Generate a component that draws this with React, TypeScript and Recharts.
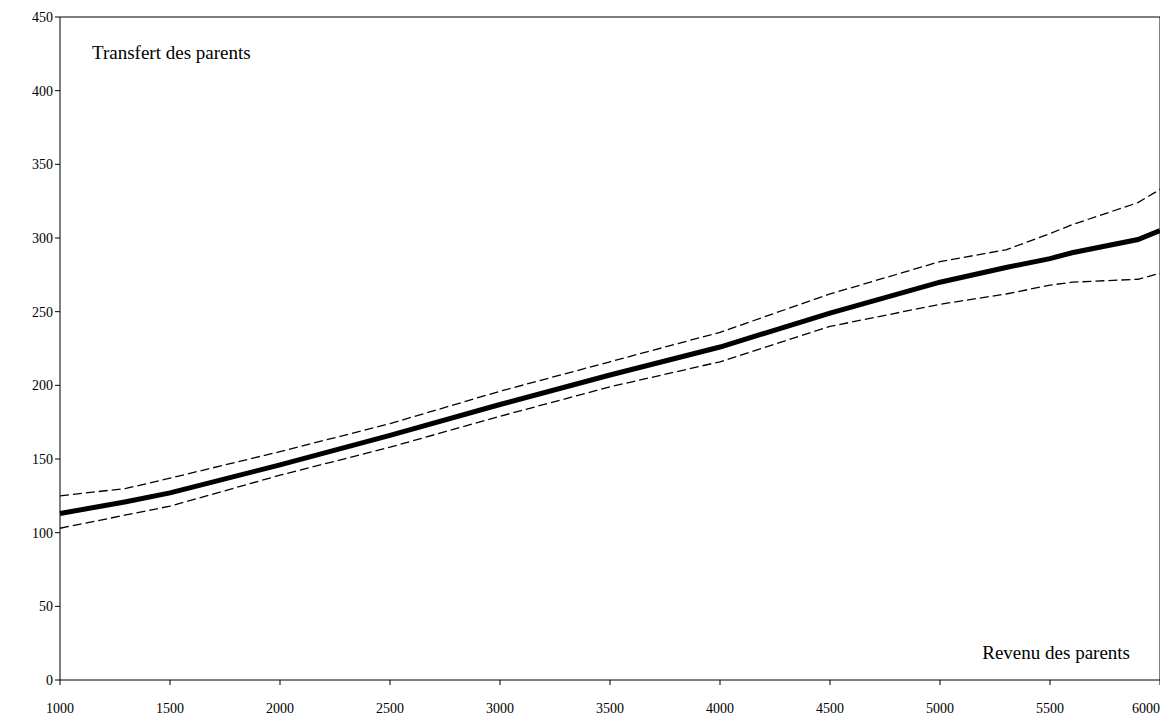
import React from "react";
import { LineChart, Line, XAxis, YAxis, ReferenceLine } from "recharts";

const xs = [1000, 1300, 1500, 2000, 2500, 3000, 3500, 4000, 4500, 5000, 5300, 5500, 5600, 5900, 6000];
const mid = [113, 121, 127, 146, 166, 187, 207, 226, 249, 270, 280, 286, 290, 299, 305];
const upper = [125, 130, 137, 155, 174, 196, 216, 236, 262, 284, 292, 303, 309, 324, 333];
const lower = [103, 112, 118, 139, 158, 179, 199, 216, 240, 255, 262, 268, 270, 272, 276];
const xTicks = [1000, 1500, 2000, 2500, 3000, 3500, 4000, 4500, 5000, 5500, 6000];
const yTicks = [0, 50, 100, 150, 200, 250, 300, 350, 400, 450];

const data = xs.map((x, i) => ({ x, mid: mid[i], upper: upper[i], lower: lower[i] }));
const font = { fontFamily: "Liberation Serif", fontSize: 14, fill: "#000" };

export default function App() {
  return (
    <div style={{ position: "relative", width: 1152, height: 714, fontFamily: "Liberation Serif" }}>
      <LineChart width={1152} height={714} data={data} margin={{ top: 9, right: 0, bottom: 0, left: 0 }}>
        <XAxis dataKey="x" type="number" domain={[1000, 6000]} ticks={xTicks} height={42}
          tick={font} stroke="#000" tickSize={5} tickMargin={18} />
        <YAxis type="number" domain={[0, 450]} ticks={yTicks} width={52} tick={font} stroke="#000" tickSize={5} />
        <ReferenceLine x={6000} stroke="#000" />
        <ReferenceLine y={450} stroke="#000" />
        <Line dataKey="upper" stroke="#000" strokeWidth={1.3} strokeDasharray="9 4" dot={false} isAnimationActive={false} />
        <Line dataKey="lower" stroke="#000" strokeWidth={1.3} strokeDasharray="9 4" dot={false} isAnimationActive={false} />
        <Line dataKey="mid" stroke="#000" strokeWidth={5} dot={false} isAnimationActive={false} />
      </LineChart>
      <div style={{ position: "absolute", left: 84, top: 34, fontSize: 19 }}>Transfert des parents</div>
      <div style={{ position: "absolute", right: 30, top: 634, fontSize: 19 }}>Revenu des parents</div>
    </div>
  );
}
